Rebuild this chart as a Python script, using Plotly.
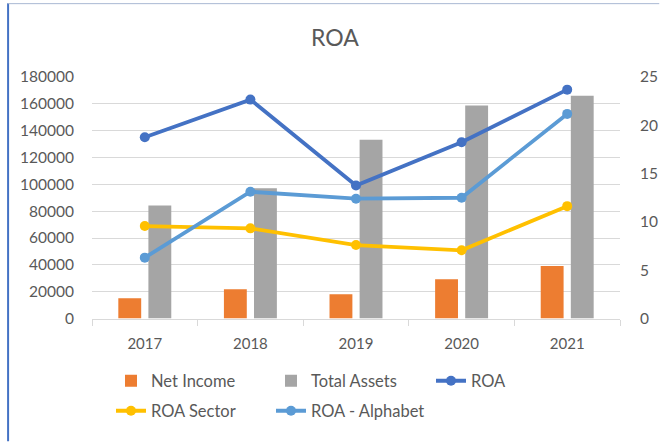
import plotly.graph_objects as go

years = ["2017", "2018", "2019", "2020", "2021"]
net_income = [15100, 21800, 18100, 29200, 39100]
total_assets = [84300, 97000, 133200, 158700, 166100]
roa = [18.76, 22.66, 13.77, 18.25, 23.69]
roa_sector = [9.57, 9.33, 7.6, 7.06, 11.63]
roa_alphabet = [6.3, 13.12, 12.4, 12.5, 21.18]

W, H = 670, 442
ML, MR, MT, MB = 92, 40, 77, 123
PW, PH = W - ML - MR, H - MT - MB

FONT = "Lato"
TXT = "#595959"
GRID = "#D9D9D9"

fig = go.Figure()
fig.add_trace(go.Bar(x=years, y=net_income, name="Net Income",
                     marker=dict(color="#ED7D31", line=dict(width=0)), legend="legend"))
fig.add_trace(go.Bar(x=years, y=total_assets, name="Total Assets",
                     marker=dict(color="#A5A5A5", line=dict(width=0)), legend="legend"))
line_kw = dict(mode="lines+markers", yaxis="y2")
fig.add_trace(go.Scatter(x=years, y=roa, name="ROA",
                         line=dict(color="#4472C4", width=3.8),
                         marker=dict(size=10, color="#4472C4"), legend="legend", **line_kw))
fig.add_trace(go.Scatter(x=years, y=roa_sector, name="ROA Sector",
                         line=dict(color="#FFC000", width=3.8),
                         marker=dict(size=10, color="#FFC000"), legend="legend2", **line_kw))
fig.add_trace(go.Scatter(x=years, y=roa_alphabet, name="ROA - Alphabet",
                         line=dict(color="#5B9BD5", width=3.8),
                         marker=dict(size=10, color="#5B9BD5"), legend="legend2", **line_kw))

def px_x(p):
    return (p - ML) / PW

def px_y(p):
    return (H - MB - p) / PH

legend_common = dict(orientation="h", xref="container", yref="container",
                     xanchor="left", yanchor="middle", entrywidth=115,
                     font=dict(family=FONT, size=16.5, color=TXT),
                     bgcolor="rgba(0,0,0,0)", traceorder="normal")

fig.update_layout(
    width=W, height=H,
    margin=dict(l=ML, r=MR, t=MT, b=MB),
    paper_bgcolor="white", plot_bgcolor="white",
    font=dict(family=FONT, color=TXT, size=15),
    title=dict(text="ROA", x=0.5, xanchor="center", xref="container",
               y=1 - 38 / H, yanchor="middle", yref="container",
               font=dict(family=FONT, size=23, color=TXT)),
    barmode="group", bargap=0.43, bargroupgap=0.24,
    xaxis=dict(type="category", showgrid=False, showline=True, linecolor=GRID, linewidth=1,
               ticks="outside", tickson="boundaries", ticklen=6, tickcolor=GRID,
               tickfont=dict(family=FONT, size=15, color=TXT), ticklabelstandoff=11),
    yaxis=dict(range=[0, 180000], dtick=20000, showgrid=True, gridcolor=GRID, gridwidth=1,
               zeroline=False, showline=False, ticks="", tickformat="d",
               tickfont=dict(family=FONT, size=15.5, color=TXT), ticklabelstandoff=17),
    yaxis2=dict(range=[0, 25], dtick=5, overlaying="y", side="right", showgrid=False,
                zeroline=False, showline=False, ticks="",
                tickfont=dict(family=FONT, size=15.5, color=TXT), ticklabelstandoff=19),
    legend=dict(x=111 / W, y=1 - 381 / H, **legend_common),
    legend2=dict(x=111 / W, y=1 - 411 / H, **legend_common),
    shapes=[
        dict(type="line", xref="paper", yref="paper", x0=px_x(6.5), x1=px_x(6.5),
             y0=px_y(3), y1=px_y(H), line=dict(color="#4472C4", width=2)),
        dict(type="line", xref="paper", yref="paper", x0=px_x(6), x1=px_x(W),
             y0=px_y(3.5), y1=px_y(3.5), line=dict(color="#A9B8D3", width=1)),
    ],
)

fig.write_html("out.html", config={"displayModeBar": False},
               post_script="document.body.style.margin='0';document.body.style.overflow='hidden';")
